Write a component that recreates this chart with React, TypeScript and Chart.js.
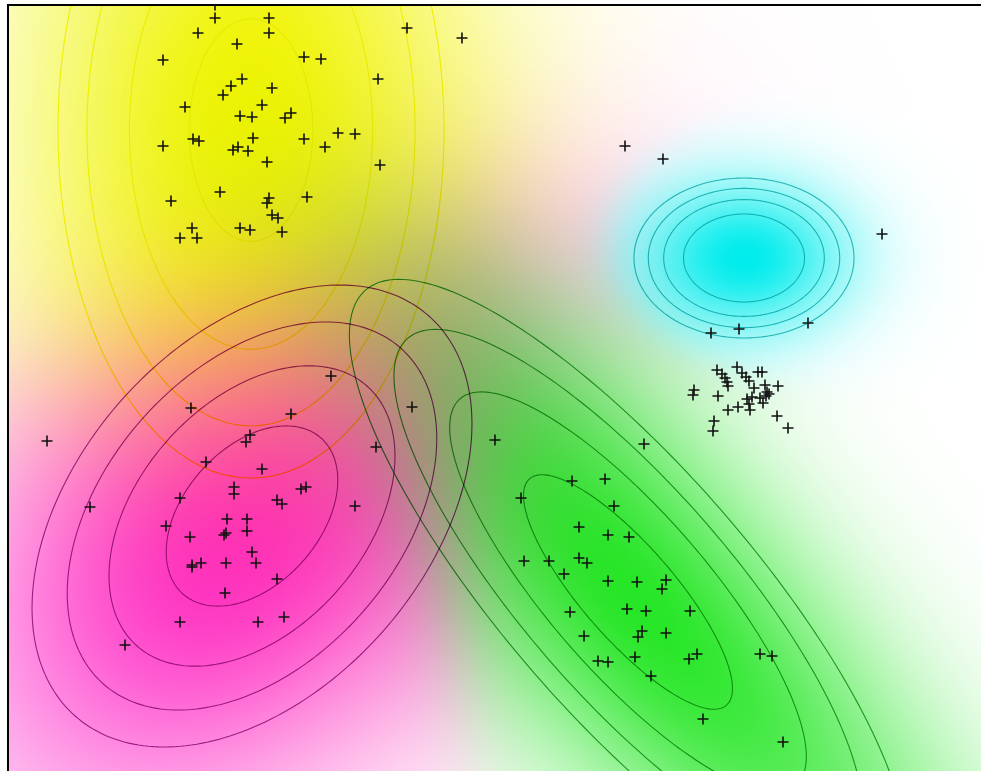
import React, { useEffect, useRef } from 'react';
import { Chart, registerables } from 'chart.js';

Chart.register(...registerables);

// ---- Observations (x, y) ----
const yellowPoints: [number, number][] = [
  [21.5, 76.6], [21.5, 75.3], [26.9, 75.3], [26.9, 73.8], [19.8, 73.8], [23.7, 72.7],
  [40.7, 74.3], [46.2, 73.3], [16.3, 71.1], [30.4, 71.4], [32.1, 71.2], [37.8, 69.2],
  [24.2, 69.2], [23.1, 68.5], [22.3, 67.6], [27.2, 68.3], [18.5, 66.4], [26.2, 66.6],
  [24.0, 65.5], [25.2, 65.4], [29.1, 65.8], [28.5, 65.3], [16.3, 62.5], [19.3, 63.2],
  [19.9, 63.0], [25.3, 63.3], [23.3, 62.1], [23.8, 62.4], [24.8, 62.0], [30.4, 63.2],
  [32.5, 62.4], [33.8, 63.8], [35.5, 63.7], [26.7, 60.9], [38.0, 60.6], [22.0, 57.9],
  [17.1, 57.0], [26.9, 57.3], [26.7, 56.8], [30.7, 57.4], [27.2, 55.6], [27.8, 55.3],
  [19.2, 54.3], [18.0, 53.3], [19.7, 53.3], [24.0, 54.3], [25.0, 54.1], [28.2, 53.9],
];

const magentaPoints: [number, number][] = [
  [33.1, 39.5], [19.1, 36.3], [29.1, 35.7], [4.7, 33.0], [41.2, 36.4], [37.6, 32.4],
  [25.0, 33.6], [24.6, 32.9], [20.6, 30.9], [26.2, 30.2], [23.4, 28.4], [23.4, 27.7],
  [30.1, 28.2], [30.6, 28.4], [18.0, 27.3], [9.0, 26.4], [27.7, 27.1], [28.2, 26.7],
  [35.5, 26.5], [22.7, 25.2], [24.7, 25.2], [16.6, 24.5], [24.7, 24.0], [22.6, 23.8],
  [22.4, 23.6], [19.0, 23.4], [25.2, 21.9], [19.2, 20.6], [19.2, 20.4], [20.1, 20.8],
  [22.6, 20.8], [25.6, 20.8], [27.7, 19.2], [22.5, 17.8], [18.0, 14.9], [25.8, 14.9],
  [28.4, 15.4], [12.5, 12.6],
];

const greenPoints: [number, number][] = [
  [49.5, 33.1], [64.4, 32.7], [52.1, 27.3], [57.2, 29.0], [60.5, 29.2], [61.4, 26.5],
  [57.9, 24.4], [60.8, 23.6], [62.9, 23.4], [52.4, 21.0], [54.9, 21.0], [57.9, 21.3],
  [58.7, 20.8], [56.4, 19.7], [60.8, 19.0], [63.7, 18.9], [66.6, 19.1], [66.2, 18.2],
  [57.0, 15.9], [62.7, 16.2], [64.6, 16.0], [69.0, 16.0], [58.4, 13.5], [64.2, 14.0],
  [63.8, 13.4], [66.6, 13.8], [63.5, 11.4], [59.8, 11.0], [60.8, 10.9], [68.9, 11.2],
  [69.7, 11.7], [76.0, 11.7], [77.2, 11.5], [65.1, 9.5], [70.3, 5.2], [78.3, 2.9],
];

const cyanPoints: [number, number][] = [
  [88.2, 53.7], [71.1, 43.8], [73.9, 44.2], [80.8, 44.8], [62.5, 62.5], [66.3, 61.2],
];

const clusterPoints: [number, number][] = [
  [69.4, 38.1], [69.3, 37.6], [71.8, 37.5], [71.7, 40.1], [72.2, 39.7], [72.5, 39.3],
  [72.7, 38.9], [72.8, 38.5], [73.7, 40.4], [74.2, 39.8], [74.6, 39.4], [74.9, 39.0],
  [75.8, 39.9], [76.2, 39.9], [76.5, 38.6], [77.8, 38.5], [76.7, 37.9], [76.9, 37.7],
  [75.4, 38.3], [75.2, 37.4], [74.7, 37.2], [74.9, 36.7], [75.0, 36.1], [73.8, 36.4],
  [72.8, 36.1], [76.3, 36.8], [77.7, 35.5], [78.8, 34.3], [71.4, 35.0], [71.3, 34.0],
  [76.0, 37.3], [76.6, 37.5],
];

// ---- Mixture components (outer contour semi-axes, rotation) ----
const meanX = [25.1, 25.2, 62.8, 74.4];
const meanY = [64.1, 25.5, 17.9, 51.3];
const axisA = [19.3, 26.7, 40.0, 11.0];
const axisB = [34.8, 17.45, 12.4, 8.0];
const angleDeg = [0, 48.5, -49, 0];
const contourLevels = [
  [0.32, 0.63, 0.85, 1],
  [0.39, 0.65, 0.84, 1],
  [0.375, 0.64, 0.84, 1],
  [0.55, 0.73, 0.87, 1],
];

// ---- Styles ----
const fillRGB = [
  [242, 244, 0],
  [255, 28, 200],
  [38, 230, 38],
  [0, 236, 236],
];
const spread = [0.8, 0.86, 0.85, 0.66];
const hueSharpness = 2;
const lineColors = ['#f6f600', '#9a3496', '#2f9f2f', '#30bcbc'];

const X_MIN = 0.9, X_MAX = 98.1, Y_MIN = 0, Y_MAX = 76.5;

const toXY = (arr: [number, number][]) => arr.map(([x, y]) => ({ x, y }));

const backgroundPlugin = {
  id: 'gmmBackground',
  beforeDatasetsDraw(chart: any) {
    const { ctx, chartArea, scales } = chart;
    const x0 = Math.round(chartArea.left), y0 = Math.round(chartArea.top);
    const w = Math.round(chartArea.right - chartArea.left);
    const h = Math.round(chartArea.bottom - chartArea.top);
    if (w <= 0 || h <= 0) return;
    const img = ctx.createImageData(w, h);
    const d = img.data;
    const xs = new Float64Array(w), ys = new Float64Array(h);
    for (let i = 0; i < w; i++) xs[i] = scales.x.getValueForPixel(x0 + i + 0.5);
    for (let j = 0; j < h; j++) ys[j] = scales.y.getValueForPixel(y0 + j + 0.5);
    const K = meanX.length;
    const cs = angleDeg.map((a) => Math.cos((a * Math.PI) / 180));
    const sn = angleDeg.map((a) => Math.sin((a * Math.PI) / 180));
    for (let j = 0; j < h; j++) {
      for (let i = 0; i < w; i++) {
        let sw = 0, r = 0, g = 0, b = 0, prod = 1;
        for (let k = 0; k < K; k++) {
          const dx = xs[i] - meanX[k], dy = ys[j] - meanY[k];
          const u = (dx * cs[k] + dy * sn[k]) / axisA[k];
          const v = (-dx * sn[k] + dy * cs[k]) / axisB[k];
          const m2 = u * u + v * v;
          const a = Math.exp((-0.5 * m2) / (spread[k] * spread[k]));
          const wt = Math.pow(a, hueSharpness);
          sw += wt;
          r += wt * fillRGB[k][0];
          g += wt * fillRGB[k][1];
          b += wt * fillRGB[k][2];
          prod *= 1 - a;
        }
        const A = 1 - prod;
        const idx = (j * w + i) * 4;
        if (sw > 1e-12) {
          d[idx] = 255 * (1 - A) + (A * r) / sw;
          d[idx + 1] = 255 * (1 - A) + (A * g) / sw;
          d[idx + 2] = 255 * (1 - A) + (A * b) / sw;
        } else {
          d[idx] = 255; d[idx + 1] = 255; d[idx + 2] = 255;
        }
        d[idx + 3] = 255;
      }
    }
    ctx.putImageData(img, x0, y0);

    // contours
    ctx.save();
    ctx.beginPath();
    ctx.rect(chartArea.left, chartArea.top, w, h);
    ctx.clip();
    ctx.globalCompositeOperation = 'multiply';
    ctx.lineWidth = 1.1;
    for (let k = 0; k < K; k++) {
      ctx.strokeStyle = lineColors[k];
      for (const s of contourLevels[k]) {
        ctx.beginPath();
        const N = 240;
        for (let t = 0; t <= N; t++) {
          const ang = (2 * Math.PI * t) / N;
          const u = axisA[k] * s * Math.cos(ang);
          const v = axisB[k] * s * Math.sin(ang);
          const x = meanX[k] + u * cs[k] - v * sn[k];
          const y = meanY[k] + u * sn[k] + v * cs[k];
          const px = scales.x.getPixelForValue(x);
          const py = scales.y.getPixelForValue(y);
          if (t === 0) ctx.moveTo(px, py); else ctx.lineTo(px, py);
        }
        ctx.closePath();
        ctx.stroke();
      }
    }
    ctx.restore();
  },
  afterDraw(chart: any) {
    const { ctx, chartArea } = chart;
    ctx.save();
    ctx.fillStyle = '#000';
    ctx.fillRect(chartArea.left - 2, chartArea.top - 2, chartArea.right - chartArea.left + 2, 2);
    ctx.fillRect(chartArea.left - 2, chartArea.top - 2, 2, chartArea.bottom - chartArea.top + 2);
    ctx.restore();
  },
};

export default function App() {
  const ref = useRef<HTMLCanvasElement | null>(null);
  useEffect(() => {
    if (!ref.current) return;
    const pointDs = (label: string, pts: [number, number][]) => ({
      label,
      data: toXY(pts),
      pointStyle: 'cross' as const,
      pointRadius: 5.5,
      pointHoverRadius: 5.5,
      borderColor: '#111',
      backgroundColor: '#111',
      pointBorderWidth: 1.6,
      borderWidth: 1.6,
      showLine: false,
    });
    const chart = new Chart(ref.current, {
      type: 'scatter',
      data: {
        datasets: [
          pointDs('yellow', yellowPoints),
          pointDs('magenta', magentaPoints),
          pointDs('green', greenPoints),
          pointDs('cyan', cyanPoints),
          pointDs('cluster', clusterPoints),
        ],
      },
      options: {
        animation: false,
        responsive: false,
        maintainAspectRatio: false,
        layout: { autoPadding: false, padding: { left: 9, top: 6, right: 0, bottom: 0 } },
        plugins: { legend: { display: false }, tooltip: { enabled: false } },
        scales: {
          x: { type: 'linear', min: X_MIN, max: X_MAX, display: false },
          y: { type: 'linear', min: Y_MIN, max: Y_MAX, display: false },
        },
      },
      plugins: [backgroundPlugin],
    });
    return () => chart.destroy();
  }, []);
  return (
    <div style={{ position: 'fixed', left: 0, top: 0, width: 981, height: 771, overflow: 'hidden', background: '#fff' }}>
      <canvas ref={ref} width={981} height={771} style={{ display: 'block', width: 981, height: 771 }} />
    </div>
  );
}
